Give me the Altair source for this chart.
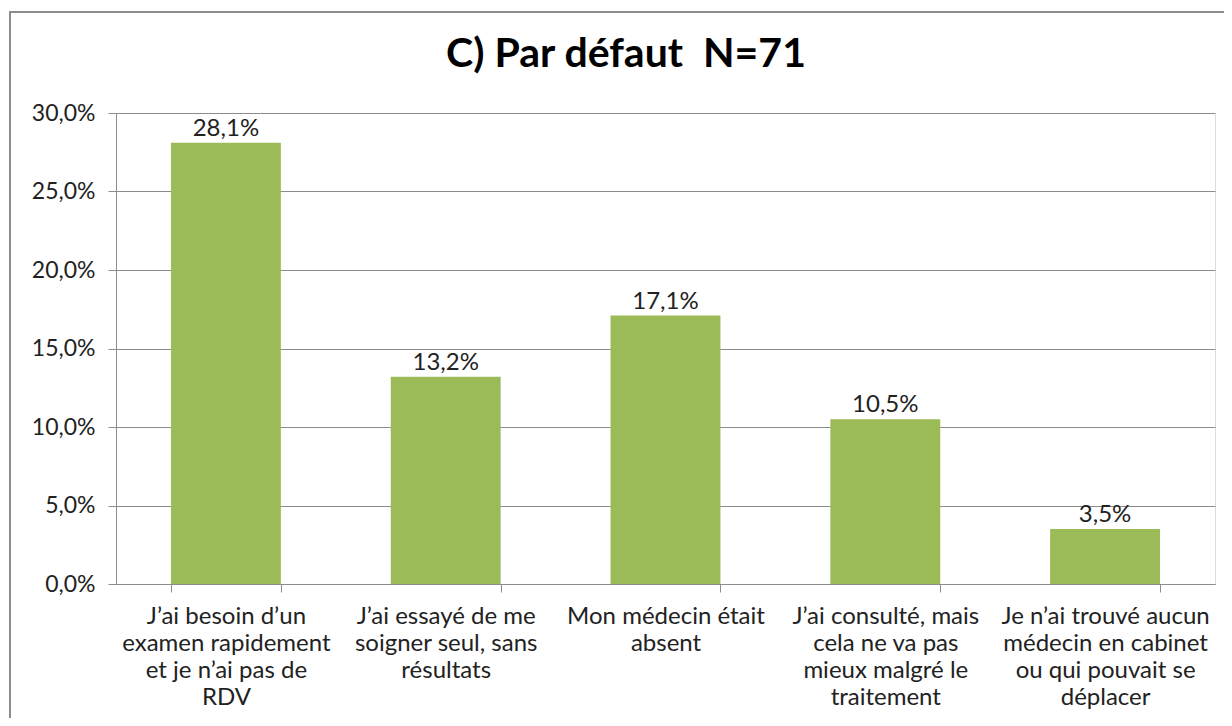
import altair as alt
import pandas as pd

categories = [
    "J’ai besoin d’un|examen rapidement|et je n’ai pas de|RDV",
    "J’ai essayé de me|soigner seul, sans|résultats",
    "Mon médecin était|absent",
    "J’ai consulté, mais|cela ne va pas|mieux malgré le|traitement",
    "Je n’ai trouvé aucun|médecin en cabinet|ou qui pouvait se|déplacer",
]
values = [28.1, 13.2, 17.1, 10.5, 3.5]
value_labels = ["28,1%", "13,2%", "17,1%", "10,5%", "3,5%"]
y_ticks = [0, 5, 10, 15, 20, 25, 30]
title_text = "C) Par défaut\u00a0\u00a0N=71"

FONT = "Lato"
GRID = "#8c8c8c"

df = pd.DataFrame({"cat": categories, "val": values, "lab": value_labels})

x_enc = alt.X(
    "cat:N",
    sort=None,
    scale=alt.Scale(paddingInner=0.5, paddingOuter=0.25),
    axis=alt.Axis(
        title=None,
        labelAngle=0,
        labelExpr="split(datum.label, '|')",
        labelFont=FONT,
        labelFontSize=24,
        labelColor="#222222",
        labelLineHeight=27,
        labelPadding=12,
        labelBaseline="top",
        labelLimit=400,
        tickBand="extent",
        tickSize=8,
        tickColor=GRID,
        domainColor=GRID,
        grid=False,
    ),
)
y_enc = alt.Y(
    "val:Q",
    scale=alt.Scale(domain=[0, 30]),
    axis=alt.Axis(
        title=None,
        values=y_ticks,
        labelExpr="replace(format(datum.value, '.1f'), '.', ',') + '%'",
        labelFont=FONT,
        labelFontSize=23,
        labelColor="#222222",
        labelPadding=13,
        tickSize=8,
        tickColor=GRID,
        domainColor=GRID,
        grid=True,
        gridColor=GRID,
        gridWidth=1,
    ),
)

base = alt.Chart(df)
bars = base.mark_bar(color="#9BBB59").encode(x=x_enc, y=y_enc)
labels = base.mark_text(
    dy=-7, baseline="alphabetic", font=FONT, fontSize=24, color="#222222"
).encode(x=alt.X("cat:N", sort=None), y=alt.Y("val:Q"), text="lab:N")

frame = alt.Chart(pd.DataFrame({"a": [0]})).mark_rect(
    fillOpacity=0, stroke="#8c8c8c", strokeWidth=2
).encode(
    x=alt.value(-106), x2=alt.value(1112), y=alt.value(-101), y2=alt.value(640)
)

title = alt.Chart(pd.DataFrame({"t": [title_text]})).mark_text(
    font=FONT, fontSize=41, fontWeight="bold", color="black",
    align="center", baseline="alphabetic",
).encode(text="t:N", x=alt.value(510), y=alt.value(-46))

chart = (
    alt.layer(frame, bars, labels, title)
    .properties(
        width=1099,
        height=471,
        autosize=alt.AutoSizeParams(type="none"),
        padding={"left": 108, "top": 105, "right": 9, "bottom": 134},
    )
    .configure_view(stroke=None)
    .configure(background="white")
)

chart.save("out.html", embed_options={"renderer": "svg", "actions": False})
